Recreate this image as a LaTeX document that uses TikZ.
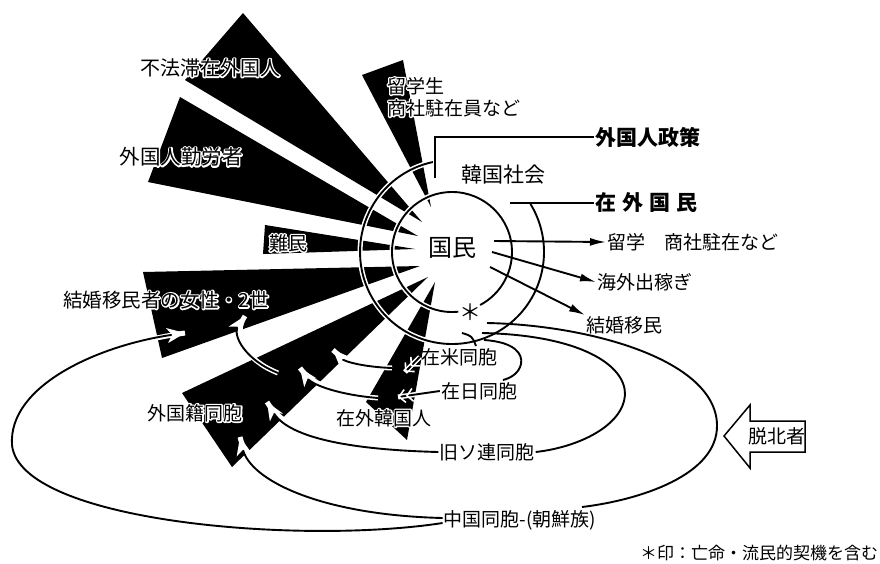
\documentclass[tikz,border=0pt]{standalone}
\usepackage{fontspec}
\setmainfont{Noto Sans CJK JP}
\usetikzlibrary{arrows.meta}
\newcommand{\hpath}[2]{\draw[halo] #2; \draw[cur,#1] #2;}
\newcommand{\olt}[1]{\rlap{\special{pdf:literal direct 1 1 1 RG 2.8 w 1 j 1 Tr}#1\special{pdf:literal direct 0 0 0 RG 0 Tr}}#1}
\begin{document}
\begin{tikzpicture}[x=1pt,y=-1pt,
  lbl/.style={inner sep=1pt, font=\fontsize{19}{22}\selectfont},
  big/.style={inner sep=1pt, font=\fontsize{21}{24}\selectfont},
  wedge/.style={fill=black, draw=none},
  circ/.style={line width=1.9pt},
  halo/.style={white, line width=5pt},
  cur/.style={line width=1.9pt},
  wtip/.style={-{Stealth[length=18pt,width=15pt,inset=5pt,white]}},
  ftip/.style={-{Latex[length=16pt,width=8pt]}},
  btip/.style={-{Straight Barb[length=6pt,width=13pt,white,line width=1.6pt]Straight Barb[length=6pt,width=13pt,white,line width=1.6pt]}},
]
\useasboundingbox[fill=white] (0,0) rectangle (880,563);
\coordinate (C) at (452,252);
% wedges
\fill[wedge] (243,13) -- (185,80) -- (422,222) -- cycle;
\fill[wedge] (180,97) -- (148,182) -- (418,236) -- cycle;
\fill[wedge] (362,75) -- (403,60) -- (431,207) -- cycle;
\fill[wedge] (265,225) -- (263,254) -- (415,249) -- cycle;
\fill[wedge] (143,272) -- (162,358) -- (420,266) -- cycle;
\fill[wedge] (182,393) -- (232,467) -- (428,277) -- cycle;
\fill[wedge] (366,402) -- (407,440) -- (435,282) -- cycle;
% circles
\draw[halo] (C) ++(84:60) arc[start angle=84, end angle=422, radius=60];
\draw[circ] (C) ++(84:60) arc[start angle=84, end angle=422, radius=60];
\draw[halo] (C) ++(-31.5:92) arc[start angle=-31.5, end angle=258, radius=92];
\draw[circ] (C) ++(-31.5:92) arc[start angle=-31.5, end angle=258, radius=92];
% labels
\node[lbl, font=\fontsize{20}{22}\selectfont] (fh) at (210,68) {\olt{不法滞在外国人}};
\node[lbl, anchor=north west, align=left] (rg) at (386,76) {\olt{留学生}\\\olt{商社駐在員など}};
\node[lbl, font=\fontsize{20.5}{22}\selectfont] (kr) at (181,157) {\olt{外国人勤労者}};
\node[lbl] (nm) at (288,243) {\olt{難民}};
\node[lbl, font=\fontsize{19.5}{22}\selectfont] (kk) at (166,300) {\olt{結婚移民者の女性・2世}};
\node[lbl] (gd) at (195,413) {\olt{外国籍同胞}};
\node[lbl] (zk) at (384,418) {\olt{在外韓国人}};
\node[lbl] (zb) at (459,357) {在米同胞};
\node[lbl] (zn) at (479,391) {在日同胞};
\node[lbl] (ks) at (487,452) {旧ソ連同胞};
\node[lbl] (cd) at (520,520) {中国同胞-(朝鮮族)};
\node[inner sep=1pt, font=\fontsize{24}{26}\selectfont] (kokumin) at (452,248) {国民};
\node[big] (kan) at (503,175) {韓国社会};
\node[big, anchor=west, font=\fontsize{21}{24}\selectfont\bfseries] (gs) at (594,137) {外国人政策};
\node[big, anchor=west, font=\fontsize{21}{24}\selectfont\bfseries] (zg) at (594,203) {在\hspace{6pt}外\hspace{6pt}国\hspace{6pt}民};
\node[lbl, anchor=west] (r1) at (606,242) {留学　商社駐在など};
\node[lbl, anchor=west] (r2) at (596,282) {海外出稼ぎ};
\node[lbl, anchor=west] (r3) at (585,325) {結婚移民};
\node[inner sep=0pt, font=\fontsize{22}{24}\selectfont] (ast) at (470,312) {＊};
\node[inner sep=0pt, anchor=west, font=\fontsize{17}{19}\selectfont] (note) at (640,553) {＊印：亡命・流民的契機を含む};
% brackets
\coordinate (gsEnd) at (435,178);
\draw[circ] (gsEnd) |- (gs.west);
\coordinate (zgEnd) at (510,203);
\draw[circ] (zgEnd) -- (zg.west);
% arrows from kokumin
\coordinate (a1s) at (494,241); \coordinate (a2s) at (492,252); \coordinate (a3s) at (490,267);
\draw[cur, ftip] (a1s) -- (r1.west);
\draw[cur, ftip] (a2s) -- (r2.west);
\draw[cur, ftip] (a3s) -- (r3.north west);
% emigration loops
\coordinate (la) at (484,340); \coordinate (ae) at (503,380);
\coordinate (lb) at (482,333);
\coordinate (lc) at (487,323); \coordinate (ce) at (582,507);
\coordinate (t1) at (462,333); \coordinate (t2) at (476,346);
\draw[cur] (la) .. controls (515,342) and (523,354) .. (521,364) .. controls (519,373) and (511,378) .. (ae);
\draw[cur] (lb) .. controls (580,335) and (626,365) .. (625,395) .. controls (623,425) and (580,447) .. (ks.east);
\draw[cur] (lc) .. controls (590,325) and (716,360) .. (717,425) .. controls (718,475) and (640,500) .. (ce);
\draw[cur] (t1) .. controls (472,336) .. (t2);
% labels to zaigai wedge
\coordinate (b1e) at (405,372); \coordinate (b2e) at (398,397);
\hpath{btip}{(zb.west) -- (b1e)}
\hpath{btip}{(zn.west) -- (b2e)}
% curves to gaikokuseki wedge
\coordinate (k1s) at (392,368); \coordinate (k1e) at (333,350);
\coordinate (k2s) at (378,398); \coordinate (k2e) at (300,368);
\coordinate (k3e) at (267,402);
\coordinate (k4e) at (240,437);
\coordinate (k5e) at (185,333);
\coordinate (k6s) at (278,373); \coordinate (k6e) at (245,316);
\hpath{wtip}{(k1s) .. controls (365,367) and (345,362) .. (k1e)}
\hpath{wtip}{(k2s) .. controls (340,395) and (312,385) .. (k2e)}
\hpath{wtip}{(ks.west) .. controls (360,450) and (290,440) .. (k3e)}
\hpath{wtip}{([yshift=2pt]cd.west) .. controls (320,515) and (250,480) .. (k4e)}
\hpath{wtip}{([yshift=-3pt]cd.west) .. controls (300,545) and (20,522) .. (12,445) .. controls (8,385) and (100,345) .. (k5e)}
\hpath{wtip}{(k6s) .. controls (245,360) and (232,335) .. (k6e)}
% dappokusha arrow
\draw[line width=1.5pt, fill=white] (805,421) -- (750,421) -- (750,405) -- (724,436) -- (750,468) -- (750,452) -- (805,452) -- cycle;
\node[lbl] (tb) at (777,436) {脱北者};
\end{tikzpicture}
\end{document}
